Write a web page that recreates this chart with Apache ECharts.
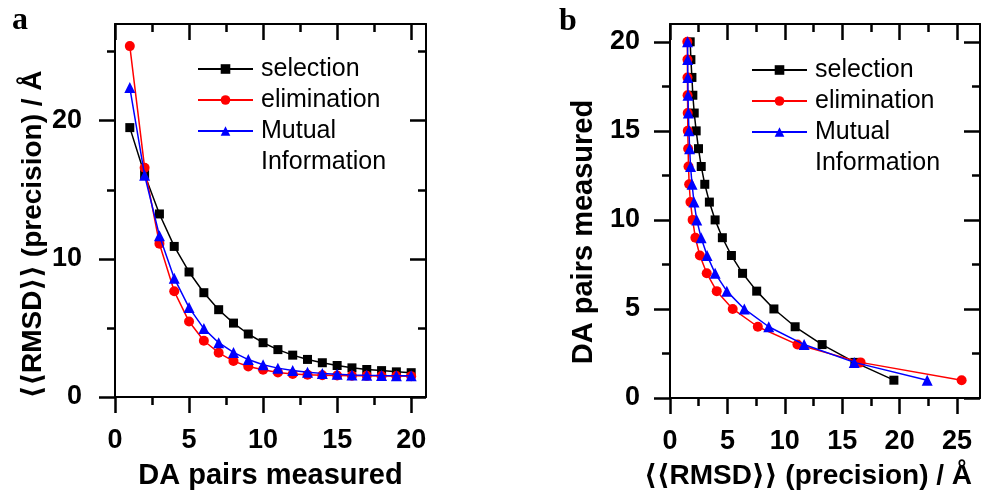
<!DOCTYPE html>
<html>
<head>
<meta charset="utf-8">
<style>
  html, body { margin: 0; padding: 0; background: #fff; }
  #chart { width: 981px; height: 495px; }
</style>
<script src="https://cdn.jsdelivr.net/npm/echarts@6/dist/echarts.min.js"></script>
</head>
<body>
<div id="chart"></div>
<script>
// Number of donor-acceptor pairs measured
const pairs = [1, 2, 3, 4, 5, 6, 7, 8, 9, 10, 11, 12, 13, 14, 15, 16, 17, 18, 19, 20];

// Mean precision <<RMSD>> (Å) for each pair-selection strategy
const selection   = [19.5, 16.1, 13.25, 10.9, 9.05, 7.55, 6.32, 5.35, 4.56, 3.93, 3.43, 3.03, 2.72, 2.48, 2.28, 2.11, 1.99, 1.91, 1.82, 1.76];
const elimination = [25.4, 16.6, 11.1, 7.65, 5.46, 4.07, 3.2, 2.6, 2.21, 1.97, 1.78, 1.67, 1.61, 1.58, 1.55, 1.54, 1.53, 1.52, 1.52, 1.51];
const mutual      = [22.4, 16.05, 11.68, 8.6, 6.47, 4.95, 3.93, 3.23, 2.71, 2.33, 2.09, 1.92, 1.79, 1.71, 1.65, 1.6, 1.57, 1.55, 1.54, 1.53];

const seriesNames = ['selection', 'elimination', 'Mutual Information'];

// Tick values
const ticksAx = [0, 5, 10, 15, 20];
const minorAx = [2.5, 7.5, 12.5, 17.5];
const ticksAy = [0, 10, 20];
const minorAy = [5, 15, 25];
const ticksBx = [0, 5, 10, 15, 20, 25];
const minorBx = [2.5, 7.5, 12.5, 17.5, 22.5];
const ticksBy = [0, 5, 10, 15, 20];
const minorBy = [2.5, 7.5, 12.5, 17.5];

const SANS = "Arial, 'Liberation Sans', 'DejaVu Sans', sans-serif";
const SERIF = "'Times New Roman', 'Liberation Serif', serif";
const RMSD_TITLE = '\u27E8\u27E8RMSD\u27E9\u27E9 (precision) / \u00C5';

// One framed axis = outer major ticks, outer minor ticks, and mirrored inner ticks on the opposite side
function framedAxis(dim, gridIndex, min, max, major, minor, labelMargin, name, nameSize, nameGap, namePadding) {
  const near = dim === 'x' ? 'bottom' : 'left';
  const far = dim === 'x' ? 'top' : 'right';
  const base = { type: 'value', gridIndex, min, max, splitLine: { show: false } };
  const line = { show: true, onZero: false, lineStyle: { color: '#000', width: 2 } };
  const noLine = { show: false, onZero: false };
  return [
    Object.assign({}, base, {
      position: near,
      axisLine: line,
      axisTick: { show: true, inside: false, length: 16, customValues: major, lineStyle: { color: '#000', width: 2.5 } },
      axisLabel: {
        show: true, customValues: major, margin: labelMargin,
        color: '#000', fontFamily: SANS, fontWeight: 'bold', fontSize: 27
      },
      name, nameLocation: 'middle', nameGap,
      nameTextStyle: { color: '#000', fontFamily: SANS, fontWeight: 'bold', fontSize: nameSize, padding: namePadding }
    }),
    Object.assign({}, base, {
      position: near,
      axisLine: noLine,
      axisTick: { show: true, inside: false, length: 8, customValues: minor, lineStyle: { color: '#000', width: 2.5 } },
      axisLabel: { show: false }
    }),
    Object.assign({}, base, {
      position: far,
      axisLine: line,
      axisTick: { show: true, inside: true, length: 16, customValues: major, lineStyle: { color: '#000', width: 2.5 } },
      axisLabel: { show: false }
    }),
    Object.assign({}, base, {
      position: far,
      axisLine: noLine,
      axisTick: { show: true, inside: true, length: 8, customValues: minor, lineStyle: { color: '#000', width: 2.5 } },
      axisLabel: { show: false }
    })
  ];
}

const xAxes = [].concat(
  framedAxis('x', 0, 0, 21, ticksAx, minorAx, 30, 'DA pairs measured', 29, 64, [0, 0, 0, 0]),
  framedAxis('x', 1, 0, 27, ticksBx, minorBx, 30, RMSD_TITLE, 28, 64, [0, 34, 0, 0])
);
const yAxes = [].concat(
  framedAxis('y', 0, 0, 27, ticksAy, minorAy, 33, RMSD_TITLE, 28, 68, [0, 48, 0, 0]),
  framedAxis('y', 1, 0, 21, ticksBy, minorBy, 30, 'DA pairs measured', 29, 72, [0, 42, 0, 0])
);

const styles = [
  { color: '#000000', symbol: 'rect', size: 9 },
  { color: '#ff0000', symbol: 'circle', size: 10 },
  { color: '#0000ff', symbol: 'triangle', size: 11 }
];
const values = [selection, elimination, mutual];

const series = [];
values.forEach(function (vals, i) {
  const st = styles[i];
  const common = {
    type: 'line', name: seriesNames[i], symbol: st.symbol, symbolSize: st.size,
    color: st.color, lineStyle: { color: st.color, width: 1.5 },
    itemStyle: { color: st.color }, z: 2 + i
  };
  // panel a: pairs on x, precision on y
  series.push(Object.assign({}, common, {
    xAxisIndex: 0, yAxisIndex: 0,
    data: pairs.map(function (p, k) { return [p, vals[k]]; })
  }));
  // panel b: precision on x, pairs on y
  series.push(Object.assign({}, common, {
    xAxisIndex: 4, yAxisIndex: 4,
    data: pairs.map(function (p, k) { return [vals[k], p]; })
  }));
});

// Each legend entry is its own component; a two-word name wraps onto a second line
// (a leading empty line keeps the first word level with the marker).
function legendItem(name, left, top, twoLine) {
  return {
    data: [name], left, top, orient: 'vertical', padding: 0,
    itemWidth: 55, itemHeight: 12, selectedMode: false,
    formatter: function (n) { return twoLine ? '\n' + n.replace(' ', '\n') : n; },
    textStyle: {
      color: '#000', fontFamily: SANS, fontSize: 25, lineHeight: 31,
      padding: [0, 0, 0, 3]
    }
  };
}

const option = {
  animation: false,
  backgroundColor: '#fff',
  grid: [
    { left: 115, top: 24, width: 311, height: 374 },
    { left: 670, top: 24, width: 310, height: 374 }
  ],
  xAxis: xAxes,
  yAxis: yAxes,
  legend: [
    legendItem('selection', 197, 53.5, false),
    legendItem('elimination', 197, 84.5, false),
    legendItem('Mutual Information', 197, 84.5, true),
    legendItem('selection', 751, 54.5, false),
    legendItem('elimination', 751, 85.5, false),
    legendItem('Mutual Information', 751, 85.5, true)
  ],
  graphic: [
    { type: 'text', left: 12, top: 5, style: { text: 'a', font: 'bold 32px ' + SERIF, fill: '#000' } },
    { type: 'text', left: 559, top: 6, style: { text: 'b', font: 'bold 32px ' + SERIF, fill: '#000' } }
  ],
  series
};

const chart = echarts.init(document.getElementById('chart'), null, { renderer: 'canvas' });
chart.setOption(option);
</script>
</body>
</html>
